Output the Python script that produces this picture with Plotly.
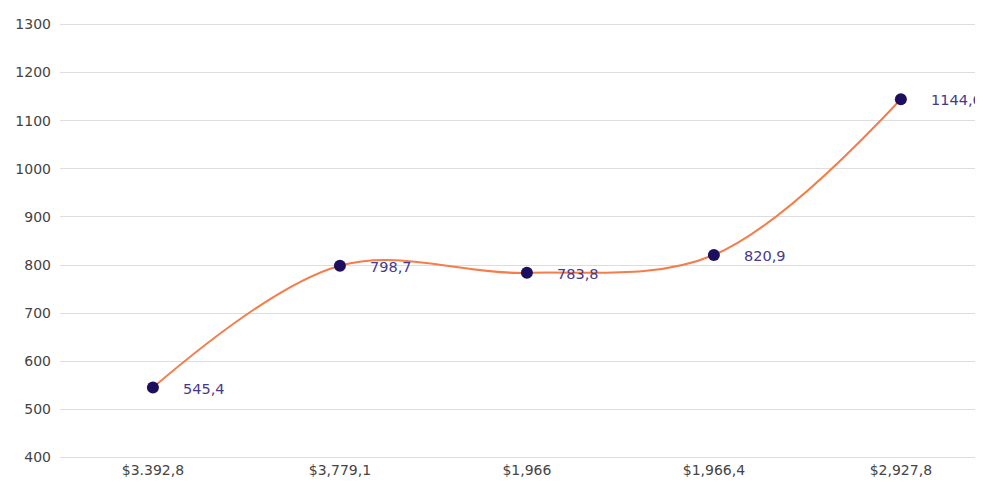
import plotly.graph_objects as go

categories = ["$3.392,8", "$3,779,1", "$1,966", "$1,966,4", "$2,927,8"]
values = [545.4, 798.7, 783.8, 820.9, 1144.6]
labels = ["545,4", "798,7", "783,8", "820,9", "1144,6"]
y_ticks = [400, 500, 600, 700, 800, 900, 1000, 1100, 1200, 1300]

FONT = "DejaVu Sans, Verdana, Arial"

fig = go.Figure()
fig.add_trace(go.Scatter(
    x=categories, y=values, mode="lines+markers",
    line=dict(color="#f47d4a", width=2, shape="spline", smoothing=1.0),
    marker=dict(color="#1e0f5e", size=12),
    hoverinfo="skip",
))
for c, v, t in zip(categories, values, labels):
    fig.add_annotation(x=c, y=v, text=t, showarrow=False, xanchor="left",
                       xshift=28, yshift=-1,
                       font=dict(family=FONT, size=14.5, color="#45398c"))

fig.update_layout(
    width=983, height=484,
    margin=dict(l=52, r=0, t=14, b=32),
    paper_bgcolor="white", plot_bgcolor="white",
    showlegend=False,
    xaxis=dict(range=[-0.497, 4.482], showgrid=False, zeroline=False, showline=False,
               ticks="", tickfont=dict(family=FONT, size=14, color="#444444")),
    yaxis=dict(range=[395, 1305], tickvals=y_ticks, showgrid=True, gridcolor="#dddddd",
               gridwidth=1, zeroline=False, showline=False, ticks="", ticklabelstandoff=8,
               tickfont=dict(family=FONT, size=14, color="#444444")),
)
fig.write_html("out.html")
